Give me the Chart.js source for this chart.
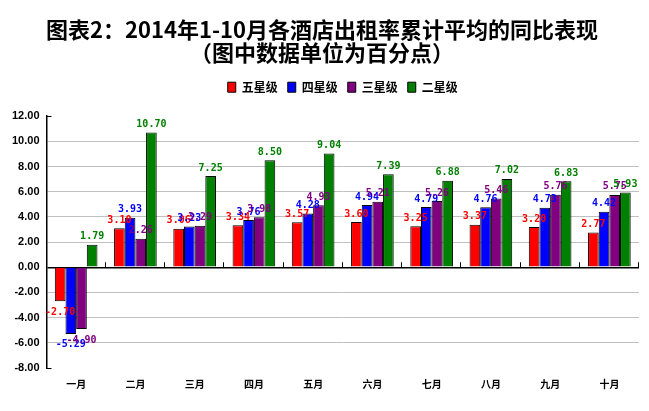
<!DOCTYPE html>
<html>
<head>
<meta charset="utf-8">
<script src="https://cdn.jsdelivr.net/npm/chart.js@4/dist/chart.umd.min.js"></script>
<style>
  body { margin: 0; background: #fff; }
  #wrap { width: 649px; height: 411px; }
</style>
</head>
<body>
<div id="wrap"><canvas id="c" width="649" height="411"></canvas></div>
<script>
var months = ['一月', '二月', '三月', '四月', '五月', '六月', '七月', '八月', '九月', '十月']
var fiveStar  = [-2.70, 3.10, 3.06, 3.34, 3.57, 3.60, 3.25, 3.37, 3.20, 2.77]
var fourStar  = [-5.29, 3.93, 3.23, 3.76, 4.28, 4.94, 4.79, 4.76, 4.73, 4.42]
var threeStar = [-4.90, 2.26, 3.29, 3.98, 4.93, 5.21, 5.26, 5.46, 5.76, 5.75]
var twoStar   = [1.79, 10.70, 7.25, 8.50, 9.04, 7.39, 6.88, 7.02, 6.83, 5.93]
var seriesNames = ['五星级', '四星级', '三星级', '二星级']
var seriesColors = ['#ff0000', '#0000ff', '#800080', '#008000']
var yMin = -8, yMax = 12, yStep = 2

var allSeries = [fiveStar, fourStar, threeStar, twoStar]

// labels over / under each bar
var valueLabels = {
	id: 'valueLabels',
	afterDatasetsDraw(chart) {
		var ctx = chart.ctx
		ctx.save()
		ctx.font = 'bold 10px "DejaVu Sans Mono"'
		ctx.textAlign = 'center'
		chart.data.datasets.forEach((ds, i) => {
			chart.getDatasetMeta(i).data.forEach((bar, j) => {
				var v = ds.data[j]
				ctx.fillStyle = seriesColors[i]
				if (v >= 0) {
					ctx.textBaseline = 'bottom'
					ctx.fillText(v.toFixed(2), bar.x, bar.y - 3)
				} else {
					ctx.textBaseline = 'top'
					ctx.fillText(v.toFixed(2), bar.x, bar.y + 6)
				}
			})
		})
		ctx.restore()
	}
}

// small ticks on the zero line between months, and at the axis ends
var axisMarks = {
	id: 'axisMarks',
	afterDraw(chart) {
		var ctx = chart.ctx, xs = chart.scales.x, ys = chart.scales.y
		var y0 = ys.getPixelForValue(0)
		var step = xs.width / months.length
		ctx.save()
		ctx.strokeStyle = '#000'
		ctx.lineWidth = 1
		ctx.beginPath()
		for (var i = 1; i <= months.length; i++) {
			var x = Math.round(xs.left + i * step) - 0.5
			ctx.moveTo(x, y0)
			ctx.lineTo(x, y0 - 5)
		}
		;[yMin, yMax].forEach(v => {
			var y = Math.round(ys.getPixelForValue(v)) + 0.5
			ctx.moveTo(xs.left, y)
			ctx.lineTo(xs.left + 5, y)
		})
		ctx.stroke()
		ctx.restore()
	}
}

var legendSpace = {
	id: 'legendSpace',
	beforeInit(chart) {
		var fit = chart.legend.fit
		chart.legend.fit = function () {
			fit.bind(chart.legend)()
			this.height += 13
		}
	}
}

new Chart(document.getElementById('c').getContext('2d'), {
	type: 'bar',
	data: {
		labels: months,
		datasets: allSeries.map((d, i) => ({
			label: seriesNames[i],
			data: d,
			backgroundColor: seriesColors[i],
			borderColor: '#000',
			borderWidth: 1,
			barPercentage: 1.0,
			categoryPercentage: 0.72
		}))
	},
	options: {
		responsive: false,
		animation: false,
		layout: { padding: { left: 5, right: 10, top: 18, bottom: 11 } },
		plugins: {
			title: {
				display: true,
				text: ['图表2：2014年1-10月各酒店出租率累计平均的同比表现', '（图中数据单位为百分点）'],
				color: '#000',
				font: { family: '"Noto Sans CJK SC", "Liberation Sans"', size: 22, weight: 'bold', lineHeight: 1.05 },
				padding: { top: 0, bottom: 7 }
			},
			legend: {
				position: 'top',
				fullSize: false,
				labels: {
					color: '#000',
					boxWidth: 8,
					boxHeight: 10,
					padding: 10,
					font: { family: '"Noto Sans CJK SC"', size: 12, weight: 'bold' }
				}
			},
			tooltip: { enabled: false }
		},
		scales: {
			x: {
				grid: { display: false, drawTicks: false },
				border: { display: false },
				ticks: {
					color: '#000',
					padding: 10,
					font: { family: '"Noto Sans CJK SC"', size: 10, weight: 'bold' }
				}
			},
			y: {
				min: yMin,
				max: yMax,
				border: { display: true, color: '#000', width: 1.5 },
				grid: {
					drawTicks: false,
					color: c => c.tick.value === 0 ? '#000' : (c.tick.value === yMin || c.tick.value === yMax ? 'rgba(0,0,0,0)' : '#c0c0c0'),
					lineWidth: c => c.tick.value === 0 ? 1.5 : 1
				},
				ticks: {
					stepSize: yStep,
					color: '#000',
					padding: 7,
					font: { family: '"Liberation Sans"', size: 11, weight: 'bold' },
					callback: v => v.toFixed(2)
				}
			}
		}
	},
	plugins: [legendSpace, valueLabels, axisMarks]
})
</script>
</body>
</html>
